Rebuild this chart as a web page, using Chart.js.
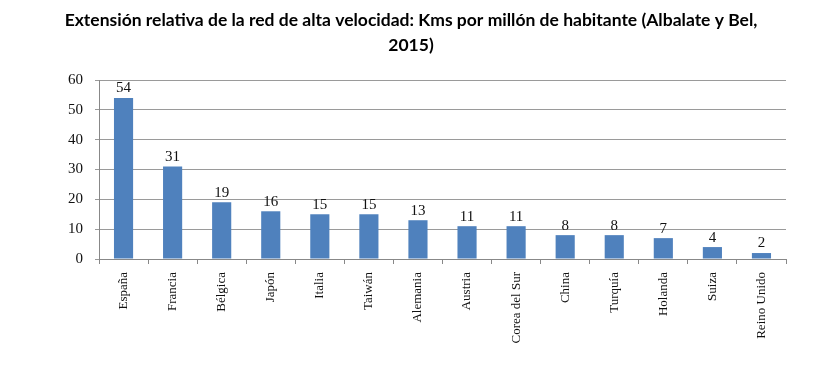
<!DOCTYPE html>
<html>
<head>
<meta charset="utf-8">
<script src="https://cdn.jsdelivr.net/npm/chart.js@4.4.1/dist/chart.umd.min.js"></script>
<style>
html,body{margin:0;padding:0;background:#fff;}
#wrap{width:827px;height:367px;position:relative;}
</style>
</head>
<body>
<div id="wrap"><canvas id="c" width="827" height="367"></canvas></div>
<script>
const titleLines = ['Extensión relativa de la red de alta velocidad: Kms por millón de habitante (Albalate y Bel,', '2015)'];
const categories = ['España','Francia','Bélgica','Japón','Italia','Taiwán','Alemania','Austria','Corea del Sur','China','Turquía','Holanda','Suiza','Reino Unido'];
const values = [54,31,19,16,15,15,13,11,11,8,8,7,4,2];
const yTicks = [0,10,20,30,40,50,60];

const valueLabels = {
  id: 'valueLabels',
  afterDatasetsDraw(chart) {
    const ctx = chart.ctx;
    const meta = chart.getDatasetMeta(0);
    ctx.save();
    ctx.font = '15px "Liberation Serif", serif';
    ctx.fillStyle = '#111';
    ctx.textAlign = 'center';
    ctx.textBaseline = 'bottom';
    meta.data.forEach((bar, i) => {
      ctx.fillText(String(values[i]), bar.x, bar.y - 2);
    });
    ctx.restore();
  }
};

new Chart(document.getElementById('c'), {
  type: 'bar',
  data: {
    labels: categories,
    datasets: [{
      data: values,
      backgroundColor: '#4F81BD',
      borderWidth: 0,
      barPercentage: 0.39,
      categoryPercentage: 1.0
    }]
  },
  options: {
    responsive: false,
    animation: false,
    layout: { padding: { left: 36, right: 41, top: 0, bottom: 0 } },
    plugins: {
      legend: { display: false },
      tooltip: { enabled: false },
      title: {
        display: true,
        text: titleLines,
        color: '#000',
        font: { family: 'Lato', size: 17.5, weight: 'bold', lineHeight: 1.43 },
        padding: { top: 8, bottom: 22 }
      }
    },
    scales: {
      x: {
        grid: { display: true, drawOnChartArea: false, drawTicks: true, tickLength: 5, color: '#888', offset: true },
        border: { display: true, color: '#888', width: 1 },
        ticks: {
          minRotation: 90, maxRotation: 90, autoSkip: false,
          color: '#111', padding: 8,
          font: { family: '"Liberation Serif", serif', size: 13 }
        },
        afterFit(scale) { scale.height = 108; }
      },
      y: {
        min: 0, max: 60,
        afterBuildTicks(scale) { scale.ticks = yTicks.map(v => ({ value: v })); },
        grid: { color: '#9a9a9a', tickLength: 4, drawTicks: true },
        border: { display: true, color: '#888', width: 1 },
        ticks: {
          color: '#111', padding: 12,
          font: { family: '"Liberation Serif", serif', size: 15 }
        },
        afterFit(scale) { scale.width = 63; }
      }
    }
  },
  plugins: [valueLabels]
});
</script>
</body>
</html>
